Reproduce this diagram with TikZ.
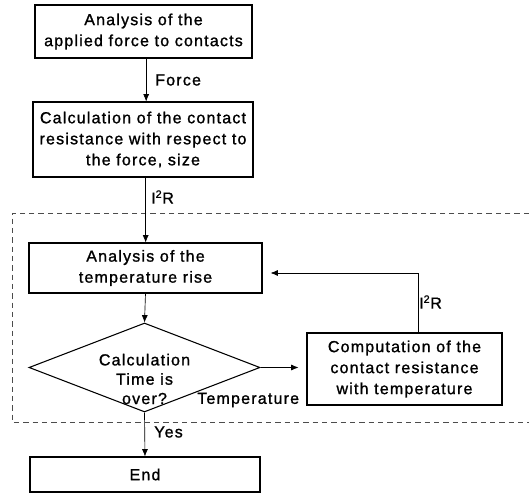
\documentclass[tikz,border=0pt]{standalone}
\usepackage{fontspec}
\setmainfont{Liberation Sans}[LetterSpace=7.5,FakeBold=1.2]
\usetikzlibrary{shapes.geometric,arrows.meta}

\begin{document}
\begin{tikzpicture}[x=0.75pt,y=0.75pt,yscale=-1,xscale=1,
    box/.style={draw,line width=0.8pt,align=center,inner sep=2pt,font=\fontsize{12}{15.75}\selectfont},
    lbl/.style={anchor=west,inner sep=0.75pt,font=\fontsize{12}{15.75}\selectfont},
    flow/.style={-{Latex[length=5.5pt,width=4.5pt]},line width=0.5pt}]
    %set diagram size: 529 x 495
    \useasboundingbox (0,0) rectangle (529,495);

    %Shape: Dashed frame (open to the right)
    \draw [color=black!70,line width=0.6pt,dash pattern={on 4pt off 3pt}] (529,213) -- (12,213) -- (12,422) -- (529,422) ;

    %Shape: Rectangle
    \node (force) at (143.5,31.5) [box,minimum width=162.75pt,minimum height=39.75pt] {Analysis of the\\applied force to contacts};
    %Shape: Rectangle
    \node (contact) at (143,139.5) [box,minimum width=165pt,minimum height=56.25pt] {Calculation of the contact\\resistance with respect to\\the force, size};
    %Shape: Rectangle
    \node (temprise) at (145.5,268) [box,minimum width=174.75pt,minimum height=37.5pt] {Analysis of the\\temperature rise};
    %Shape: Diamond
    \node (check) at (144.5,367.5) [draw,line width=0.8pt,diamond,inner sep=0pt,minimum width=173.25pt,minimum height=66.75pt] {};
    \node (checktext) at (144.5,379) [align=center,inner sep=0pt,font=\fontsize{12}{14.5}\selectfont] {Calculation\\Time is\\over?};
    %Shape: Rectangle
    \node (newres) at (404.5,369) [box,minimum width=146.25pt,minimum height=54pt] {Computation of the\\contact resistance\\with temperature};
    %Shape: Rectangle
    \node (finish) at (145,474.5) [box,minimum width=172.5pt,minimum height=26.25pt] {End};

    %Straight Lines
    \draw [flow] ([xshift=2pt]force.south) -- ([xshift=2pt]force.south |- contact.north) ;
    \draw [flow] ([xshift=2pt]contact.south) -- ([xshift=2pt]contact.south |- temprise.north) ;
    \draw [flow] (temprise.south) -- (check.north) ;
    \draw [flow,shorten >=6pt] (check.east) -- (check.east -| newres.west) ;
    \draw [flow,shorten >=6pt] ([xshift=10pt]newres.north) |- ([yshift=3.75pt]temprise.east) ;
    \draw [flow] (check.south) -- (finish.north) ;

    % Text Node
    \node (lblforce) at (154,80) [lbl] {Force};
    % Text Node
    \node (lblheat) at (150,197) [lbl] {I\textsuperscript{2}R};
    % Text Node
    \node (lblheatback) at (418,302) [lbl] {I\textsuperscript{2}R};
    % Text Node
    \node (lbltemp) at (196,400) [lbl] {Temperature};
    % Text Node
    \node (lblyes) at (153,432) [lbl] {Yes};

\end{tikzpicture}
\end{document}
